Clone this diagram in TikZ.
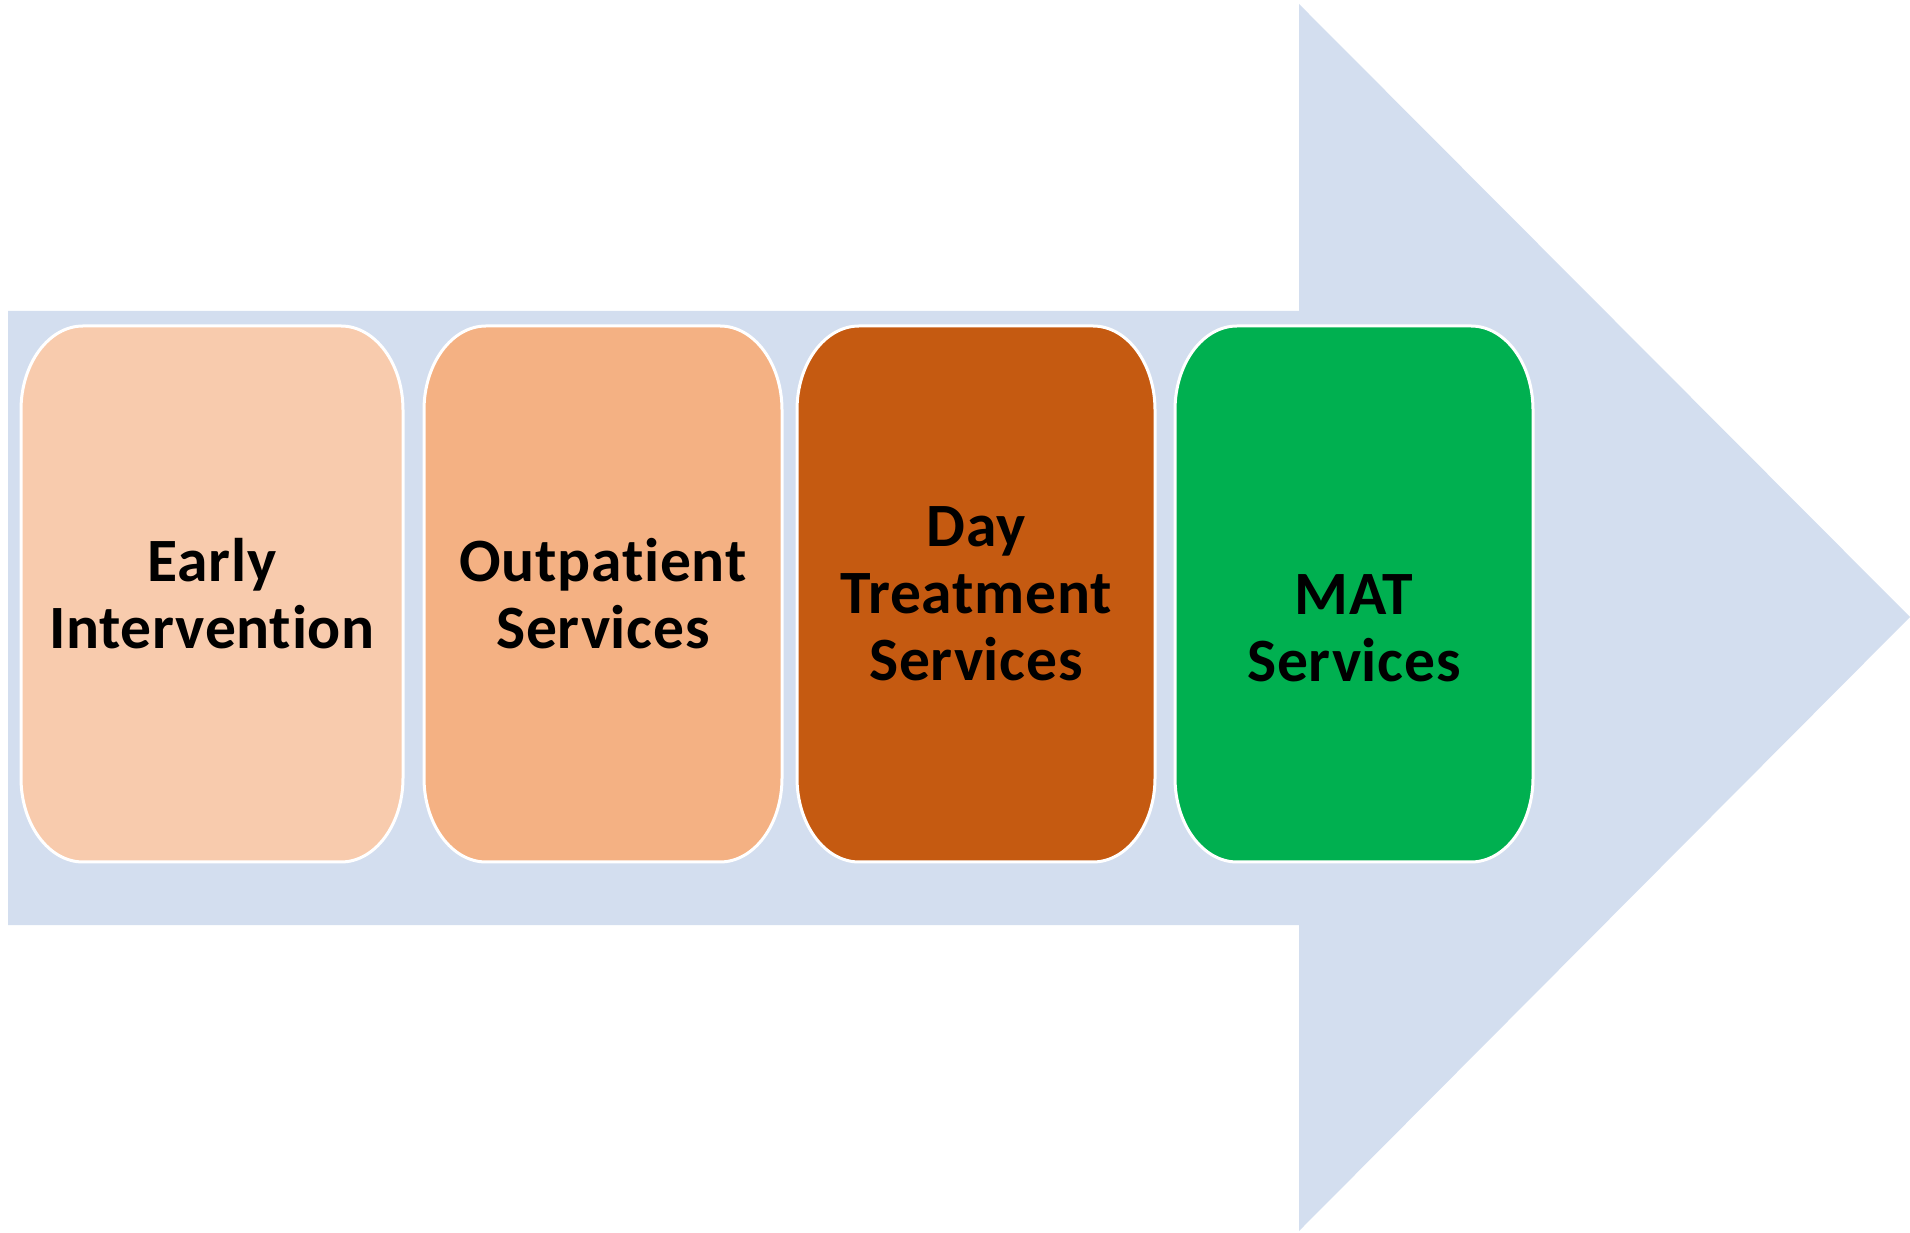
\documentclass[tikz,border=0pt]{standalone}
\usepackage{fontspec}
\setmainfont{Carlito}[Ligatures=NoCommon, LetterSpace=1.2]

\definecolor{arrowblue}{HTML}{D3DEEF}
\definecolor{earlypeach}{HTML}{F8CBAD}
\definecolor{outorange}{HTML}{F4B183}
\definecolor{dayrust}{HTML}{C55A11}
\definecolor{matgreen}{HTML}{00B050}

% box with oval corners: left x, right x, fill colour
\newcommand{\svcbox}[3]{%
  \filldraw[fill=#3, draw=white, line width=1.5pt]
    (#1+62,370) -- (#2-62,370)
    arc[start angle=-90, end angle=0, x radius=31pt, y radius=42pt]
    -- (#2,822)
    arc[start angle=0, end angle=90, x radius=31pt, y radius=42pt]
    -- (#1+62,906)
    arc[start angle=90, end angle=180, x radius=31pt, y radius=42pt]
    -- (#1,454)
    arc[start angle=180, end angle=270, x radius=31pt, y radius=42pt]
    -- cycle;
}

\begin{document}
\begin{tikzpicture}[
    x=0.5pt, y=0.5pt,
    svctext/.style={font=\bfseries\fontsize{30.8}{33.5}\selectfont,
      align=center, text=black, inner sep=0pt}
  ]
  \useasboundingbox (0,0) rectangle (1910,1232);

  % big arrow behind
  \fill[arrowblue] (8,921) -- (1299,921) -- (1299,1228) -- (1910,615)
    -- (1299,1) -- (1299,307) -- (8,307) -- cycle;

  \svcbox{21}{403}{earlypeach}
  \svcbox{424}{782}{outorange}
  \svcbox{797}{1155}{dayrust}
  \svcbox{1175}{1533}{matgreen}

  \node[svctext] (early) at (212,638) {Early\\Intervention};
  \node[svctext] (outpat) at (603,638) {Outpatient\\Services};
  \node[svctext] (daytreat) at (976,638) {Day\\Treatment\\Services};
  \node[svctext] (mat) at (1354,604) {MAT\\Services};

\end{tikzpicture}
\end{document}
